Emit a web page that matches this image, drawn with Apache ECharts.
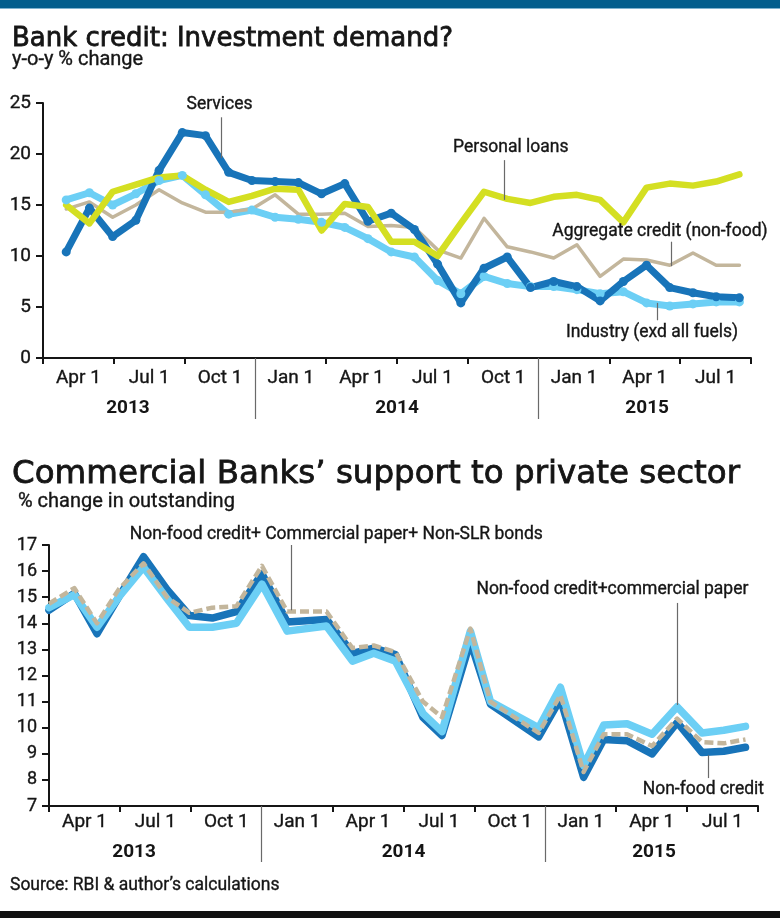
<!DOCTYPE html>
<html>
<head>
<meta charset="utf-8">
<script src="https://cdn.jsdelivr.net/npm/echarts@6/dist/echarts.min.js"></script>
<style>
html,body{margin:0;padding:0;background:#fff;}
#c{width:780px;height:918px;}
</style>
</head>
<body>
<div id="c"></div>
<script>
// ---------- tick labels ----------
const quarterLabels = ['Apr 1','Jul 1','Oct 1','Jan 1','Apr 1','Jul 1','Oct 1','Jan 1','Apr 1','Jul 1'];
const yearLabels = ['2013','2014','2015'];

// ---------- top chart: y-o-y % change, monthly (30 observations) ----------
const services   = [10.4,14.7,11.9,13.5,18.4,22.1,21.8,18.2,17.4,17.3,17.2,16.1,17.1,13.4,14.2,12.6,9.2,5.4,8.8,9.9,6.9,7.5,7.0,5.6,7.5,9.1,6.9,6.4,6.0,5.9];
const industry   = [15.5,16.2,15.0,16.1,17.4,17.9,16.0,14.1,14.5,13.8,13.6,13.3,12.8,11.7,10.4,9.9,7.6,6.3,8.0,7.3,7.0,7.0,6.7,6.3,6.5,5.4,5.1,5.3,5.5,5.5];
const personal   = [15.0,13.2,16.3,17.0,17.7,17.9,16.5,15.3,15.9,16.6,16.5,12.5,15.1,14.8,11.4,11.4,10.0,13.2,16.3,15.6,15.2,15.8,16.0,15.5,13.3,16.7,17.1,16.9,17.3,18.0];
const aggregate  = [14.6,15.3,13.8,15.0,16.5,15.2,14.3,14.3,14.6,16.0,14.1,14.1,14.2,12.9,13.0,12.8,10.6,9.8,13.7,10.9,10.4,9.8,11.1,8.0,9.7,9.6,9.1,10.3,9.1,9.1];

// ---------- bottom chart: % change in outstanding ----------
// observation dates as months since 1 Apr 2013
const bottomMonths   = [0,1.07,2.03,2.95,4.0,4.99,5.94,6.91,7.93,9.01,10.08,11.74,12.84,13.74,14.66,15.82,16.63,17.83,18.68,20.72,21.64,22.62,23.47,24.46,25.52,26.58,27.63,28.55,29.47];
const nonFoodCredit  = [14.5,15.15,13.6,15.0,16.55,15.3,14.3,14.2,14.45,15.9,14.05,14.15,12.85,13.05,12.8,10.4,9.7,13.3,10.9,9.65,11.1,8.1,9.55,9.5,9.0,10.2,9.05,9.1,9.25];
const nfcPlusCP      = [14.6,15.1,13.85,15.0,16.15,14.95,13.85,13.85,14.0,15.5,13.7,13.9,12.55,12.85,12.55,10.55,9.85,13.7,11.0,10.0,11.55,8.55,10.1,10.15,9.75,10.8,9.8,9.9,10.05];
const nfcPlusCPBonds = [14.75,15.35,14.0,15.3,16.3,15.0,14.4,14.6,14.65,16.2,14.45,14.45,13.05,13.15,12.9,11.0,10.4,13.8,11.0,9.8,11.25,8.3,9.75,9.75,9.3,10.35,9.45,9.4,9.55];

// ---------- styling ----------
const F = 'Roboto, "Liberation Sans", Arial, sans-serif';
const FT = '"DejaVu Sans", Roboto, sans-serif';
const INK = '#151515';
const C_DARK = '#1874b9', C_LIGHT = '#6ccff5', C_LIME = '#d4df22', C_TAN = '#c3b69c';

const quarterTicks = [0,3,6,12,15,18,24,27,30];
const quarterLabelPos = quarterLabels.map((_, i) => i * 3 + 1.5);
const yearTickPos = [9, 21];
const yearLabelPos = [3.6, 15.0, 25.6];

const heavy = { textBorderColor: INK, textBorderWidth: 0.35 };

function quarterAxis(grid, labelMargin) {
  return {
    gridIndex: grid, type: 'value', min: 0, max: 30, position: 'bottom',
    axisLine: { show: true, onZero: false, lineStyle: { color: INK, width: 2 } },
    axisTick: { show: true, customValues: quarterTicks, length: 6, lineStyle: { color: INK, width: 2 } },
    axisLabel: Object.assign({
      show: true, customValues: quarterLabelPos, margin: labelMargin,
      fontFamily: F, fontSize: 19, color: INK,
      formatter: v => quarterLabels[Math.round((v - 1.5) / 3)]
    }, heavy),
    splitLine: { show: false }
  };
}
function yearAxis(grid, tickLen, labelMargin) {
  return {
    gridIndex: grid, type: 'value', min: 0, max: 30, position: 'bottom',
    axisLine: { show: false, onZero: false },
    axisTick: { show: true, customValues: yearTickPos, length: tickLen, lineStyle: { color: '#6a6a6a', width: 1.2 } },
    axisLabel: {
      show: true, customValues: yearLabelPos, margin: labelMargin,
      fontFamily: F, fontSize: 19, fontWeight: 'bold', color: INK,
      formatter: v => yearLabels[yearLabelPos.indexOf(v)]
    },
    splitLine: { show: false }
  };
}
function yAxis(grid, min, max, interval, fs) {
  return {
    gridIndex: grid, type: 'value', min, max, interval,
    axisLine: { show: true, lineStyle: { color: INK, width: 2 } },
    axisTick: { show: true, length: 7, lineStyle: { color: INK, width: 2 } },
    axisLabel: Object.assign({ margin: 12, fontFamily: F, fontSize: fs, color: INK }, heavy),
    splitLine: { show: false }
  };
}
function leader(from, to, text, pos, distance, padding) {
  return {
    silent: true, animation: false, symbol: ['none', 'none'],
    lineStyle: { color: '#6a6a6a', width: 1.2, type: 'solid' },
    label: Object.assign({ show: true, position: pos, distance, padding, formatter: text,
             fontFamily: F, fontSize: 17.5, color: INK }, heavy),
    emphasis: { disabled: true },
    data: [[{ coord: from }, { coord: to }]]
  };
}
const idx = arr => arr.map((v, i) => [i + 1, v]);
const withX = (xs, ys) => ys.map((v, i) => [xs[i], v]);

const titleHeavy = { textBorderColor: INK, textBorderWidth: 0.8 };

const chart = echarts.init(document.getElementById('c'), null, { renderer: 'canvas' });
chart.setOption({
  animation: false,
  backgroundColor: '#fff',
  title: [
    { text: 'Bank credit: Investment demand?', left: 12, top: 26, padding: 0,
      textStyle: Object.assign({ fontFamily: FT, fontSize: 26, fontWeight: 'normal', color: INK }, titleHeavy) },
    { text: 'y-o-y % change', left: 12, top: 50, padding: 0,
      textStyle: Object.assign({ fontFamily: F, fontSize: 20, fontWeight: 'normal', color: INK }, heavy) },
    { text: 'Commercial Banks\u2019 support to private sector', left: 12, top: 458, padding: 0,
      textStyle: Object.assign({ fontFamily: FT, fontSize: 32.5, fontWeight: 'normal', color: INK }, titleHeavy) },
    { text: '% change in outstanding', left: 18, top: 492, padding: 0,
      textStyle: Object.assign({ fontFamily: F, fontSize: 20, fontWeight: 'normal', color: INK }, heavy) },
    { text: 'Source: RBI & author\u2019s calculations', left: 10, top: 877, padding: 0,
      textStyle: Object.assign({ fontFamily: F, fontSize: 17.5, fontWeight: 'normal', color: INK }, heavy) }
  ],
  graphic: [
    { type: 'rect', left: 0, top: 0, shape: { width: 780, height: 8 }, style: { fill: '#035e8d' }, silent: true },
    { type: 'rect', left: 0, top: 8, shape: { width: 780, height: 1 }, style: { fill: '#7fb3cf' }, silent: true },
    { type: 'rect', left: 0, top: 911, shape: { width: 780, height: 7 }, style: { fill: '#111' }, silent: true }
  ],
  grid: [
    { left: 43, right: 29, top: 103, bottom: 560 },
    { left: 49, right: 22, top: 545, bottom: 112 }
  ],
  xAxis: [
    { gridIndex: 0, type: 'value', min: 0, max: 30.5, show: false },
    quarterAxis(0, 11),
    yearAxis(0, 61, 41),
    quarterAxis(1, 7),
    yearAxis(1, 56, 37)
  ],
  yAxis: [
    yAxis(0, 0, 25, 5, 19),
    yAxis(1, 7, 17, 1, 18)
  ],
  series: [
    { name: 'Industry (exd all fuels)', type: 'line', xAxisIndex: 0, yAxisIndex: 0, clip: false,
      data: idx(industry), symbol: 'circle', symbolSize: 9, showSymbol: true,
      itemStyle: { color: C_LIGHT }, lineStyle: { color: C_LIGHT, width: 7, join: 'round', cap: 'round' },
      markLine: leader([26.45, 3.7], [26.45, 5.4], 'Industry (exd all fuels)', 'start', 3, [0, 10, 0, 0]) },
    { name: 'Aggregate credit (non-food)', type: 'line', xAxisIndex: 0, yAxisIndex: 0, clip: false,
      data: idx(aggregate), symbol: 'none',
      lineStyle: { color: C_TAN, width: 3.5, join: 'round', cap: 'round' },
      markLine: leader([27.05, 9.0], [27.05, 11.4], 'Aggregate credit (non-food)', 'end', 1, [0, 22, 0, 0]) },
    { name: 'Services', type: 'line', xAxisIndex: 0, yAxisIndex: 0, clip: false,
      data: idx(services), symbol: 'circle', symbolSize: 9, showSymbol: true,
      itemStyle: { color: C_DARK }, lineStyle: { color: C_DARK, width: 7, join: 'round', cap: 'round' },
      markLine: leader([7.69, 19.6], [7.69, 23.6], 'Services', 'end', 4, [0, 4, 0, 0]) },
    { name: 'Personal loans', type: 'line', xAxisIndex: 0, yAxisIndex: 0, clip: false,
      data: idx(personal), symbol: 'none',
      lineStyle: { color: C_LIME, width: 6.5, join: 'round', cap: 'round' },
      markLine: leader([19.85, 15.5], [19.85, 19.4], 'Personal loans', 'end', 3, [0, 0, 0, 14]) },

    { name: 'Non-food credit', type: 'line', xAxisIndex: 3, yAxisIndex: 1, clip: false,
      data: withX(bottomMonths, nonFoodCredit), symbol: 'none',
      lineStyle: { color: C_DARK, width: 7.5, join: 'round', cap: 'round' },
      markLine: leader([27.9, 8.07], [27.9, 8.95], 'Non-food credit', 'start', 3, [0, 10, 0, 0]) },
    { name: 'Non-food credit+commercial paper', type: 'line', xAxisIndex: 3, yAxisIndex: 1, clip: false,
      data: withX(bottomMonths, nfcPlusCP), symbol: 'none',
      lineStyle: { color: C_LIGHT, width: 7.5, join: 'round', cap: 'round' },
      markLine: leader([26.59, 10.87], [26.59, 14.78], 'Non-food credit+commercial paper', 'end', 4, [0, 130, 0, 0]) },
    { name: 'Non-food credit+ Commercial paper+ Non-SLR bonds', type: 'line', xAxisIndex: 3, yAxisIndex: 1, clip: false,
      data: withX(bottomMonths, nfcPlusCPBonds), symbol: 'none',
      lineStyle: { color: C_TAN, width: 4.5, type: [9, 4], join: 'round' },
      markLine: leader([10.25, 14.5], [10.25, 17.0], 'Non-food credit+ Commercial paper+ Non-SLR bonds', 'end', 1, [0, 0, 0, 90]) }
  ]
});
</script>
</body>
</html>
